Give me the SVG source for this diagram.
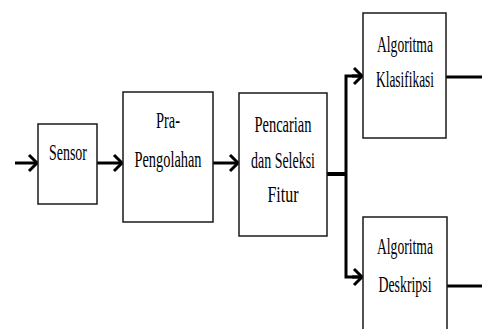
<svg xmlns="http://www.w3.org/2000/svg" width="482" height="329" viewBox="0 0 482 329">
<defs>
<marker id="chev" markerUnits="userSpaceOnUse" markerWidth="20" markerHeight="24" refX="0" refY="0" viewBox="-12 -12 16 24" orient="auto" overflow="visible">
<path d="M-8,-8 L0,0 L-8,8" fill="none" stroke="#000" stroke-width="3"/>
</marker>
<style>
.box{fill:#fff;stroke:#1a1a1a;stroke-width:1.5}
.t{font-family:'Liberation Serif','DejaVu Serif',serif;font-size:23px;fill:#000;text-anchor:middle}
.c{fill:none;stroke:#000;stroke-width:3}
</style>
</defs>
<rect width="482" height="329" fill="#fff"/>
<g id="connectors">
<line class="c" x1="15" y1="163" x2="37" y2="163" marker-end="url(#chev)"/>
<line class="c" x1="97" y1="163" x2="122" y2="163" marker-end="url(#chev)"/>
<line class="c" x1="213" y1="163" x2="238" y2="163" marker-end="url(#chev)"/>
<line x1="327" y1="174" x2="346" y2="174" stroke="#000" stroke-width="4"/>
<polyline class="c" points="362,76 346,76 346,277 362,277" stroke-width="2.5"/>
<line class="c" x1="352" y1="76" x2="362" y2="76" marker-end="url(#chev)"/>
<line class="c" x1="352" y1="277" x2="362" y2="277" marker-end="url(#chev)"/>
<line class="c" x1="446" y1="77" x2="482" y2="77"/>
<line class="c" x1="447" y1="286" x2="482" y2="286"/>
</g>
<g id="sensor">
<rect class="box" x="38" y="124" width="59" height="80"/>
<text class="t" x="68" y="160" textLength="38" lengthAdjust="spacingAndGlyphs">Sensor</text>
</g>
<g id="pra-pengolahan">
<rect class="box" x="123" y="92" width="90" height="130"/>
<text class="t" x="168" y="128" textLength="24" lengthAdjust="spacingAndGlyphs">Pra-</text>
<text class="t" x="168" y="167" textLength="67" lengthAdjust="spacingAndGlyphs">Pengolahan</text>
</g>
<g id="pencarian">
<rect class="box" x="239" y="93" width="88" height="143"/>
<text class="t" x="283" y="132" textLength="57" lengthAdjust="spacingAndGlyphs">Pencarian</text>
<text class="t" x="283" y="168" textLength="64" lengthAdjust="spacingAndGlyphs">dan Seleksi</text>
<text class="t" x="283" y="202" textLength="31" lengthAdjust="spacingAndGlyphs">Fitur</text>
</g>
<g id="klasifikasi">
<rect class="box" x="363" y="13" width="83" height="125"/>
<text class="t" x="405" y="52" textLength="56" lengthAdjust="spacingAndGlyphs">Algoritma</text>
<text class="t" x="405" y="87" textLength="58" lengthAdjust="spacingAndGlyphs">Klasifikasi</text>
</g>
<g id="deskripsi">
<rect class="box" x="363" y="217" width="84" height="130"/>
<text class="t" x="405" y="254" textLength="56" lengthAdjust="spacingAndGlyphs">Algoritma</text>
<text class="t" x="405" y="292" textLength="53" lengthAdjust="spacingAndGlyphs">Deskripsi</text>
</g>
</svg>
